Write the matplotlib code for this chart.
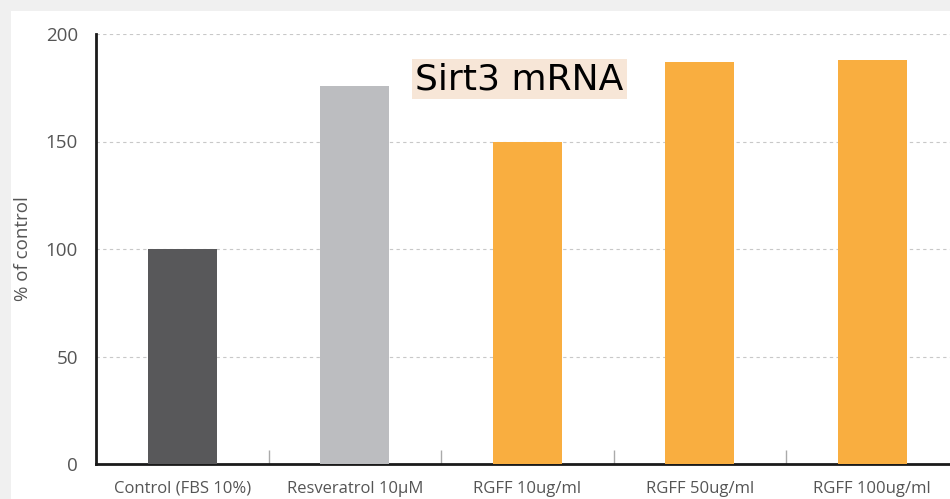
import matplotlib.pyplot as plt
from matplotlib.patches import Rectangle

categories = ["Control (FBS 10%)", "Resveratrol 10\u03bcM", "RGFF 10ug/ml", "RGFF 50ug/ml", "RGFF 100ug/ml"]
values = [100, 176, 150, 187, 188]
colors = ["#58585a", "#bcbdc0", "#f9ae40", "#f9ae40", "#f9ae40"]
yticks = [0, 50, 100, 150, 200]

fig = plt.figure(figsize=(9.5, 4.99), dpi=100)
fig.patch.set_facecolor("#f0f0f0")
fig.patches.append(Rectangle((11/950, 0), 1, 1 - 11/499, transform=fig.transFigure,
                             facecolor="white", edgecolor="none", zorder=-10))

# axes run past the right edge like the original
ax = fig.add_axes([96/950, 35/499, 862.5/950, 430/499])
ax.set_facecolor("none")

x = range(len(categories))
ax.bar(x, values, width=0.4, color=colors, zorder=3)

ax.set_xlim(-0.5, len(categories) - 0.5)
ax.set_ylim(0, 200)
ax.set_yticks(yticks)
ax.set_xticks(list(x))
ax.set_xticklabels(categories)
ax.set_xticks([i + 0.5 for i in range(len(categories) - 1)], minor=True)

ax.grid(axis="y", linestyle=(0, (3, 3)), color="#c8c8c8", linewidth=0.8, zorder=0)
ax.set_axisbelow(True)

for s in ["top", "right"]:
    ax.spines[s].set_visible(False)
ax.spines["left"].set_linewidth(2)
ax.spines["bottom"].set_linewidth(2)
ax.spines["left"].set_color("#1a1a1a")
ax.spines["bottom"].set_color("#1a1a1a")

ax.tick_params(axis="x", which="major", length=0, pad=12, labelsize=12, labelcolor="#555555")
ax.tick_params(axis="x", which="minor", direction="in", length=10, width=1, color="#aaaaaa")
ax.tick_params(axis="y", length=0, pad=13, labelsize=13.5, labelcolor="#555555")
for lab in ax.get_xticklabels() + ax.get_yticklabels():
    lab.set_family("Open Sans")

ax.set_ylabel("% of control", fontsize=13.5, color="#555555", family="Open Sans", labelpad=10)

fig.text(519.5/950, 1 - 79/499, "Sirt3 mRNA", fontsize=26, color="black",
         family=["DejaVu Sans"], ha="center", va="center",
         bbox=dict(facecolor="#f7e6d7", edgecolor="none", pad=2))

fig.savefig("out.png", dpi=100, facecolor=fig.get_facecolor())
